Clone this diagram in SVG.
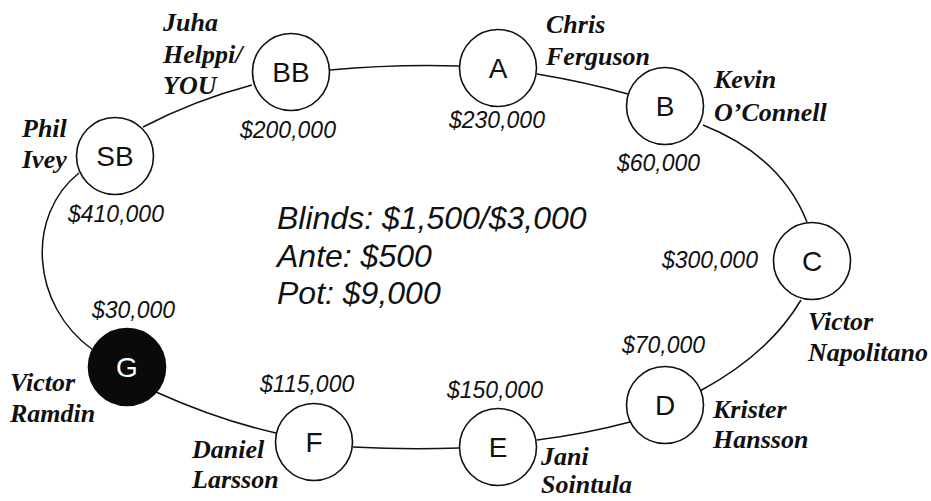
<svg xmlns="http://www.w3.org/2000/svg" width="931" height="501" viewBox="0 0 931 501">
<style>
  .seat { fill: #fff; stroke: #111; stroke-width: 1.6; }
  .seat-dark { fill: #0a0a0a; stroke: #0a0a0a; stroke-width: 1.6; }
  .lbl { font-family: "Liberation Sans", Arial, sans-serif; font-size: 28px; text-anchor: middle; fill: #111; }
  .lbl-dark { font-family: "Liberation Sans", Arial, sans-serif; font-size: 28px; text-anchor: middle; fill: #fff; }
  .name { font-family: "Liberation Serif", "Times New Roman", serif; font-weight: bold; font-style: italic; font-size: 26px; fill: #111; }
  .amt { font-family: "Liberation Sans", Arial, sans-serif; font-style: italic; font-size: 23px; fill: #111; }
  .info { font-family: "Liberation Sans", Arial, sans-serif; font-style: italic; font-size: 32px; fill: #111; }
  .conn { fill: none; stroke: #111; stroke-width: 1.5; }
</style>
<rect width="931" height="501" fill="#fff"/>
<g id="connectors">
  <path class="conn" d="M143 127 Q195 100 252 85"/>
  <path class="conn" d="M330 70 Q395 64 460 66"/>
  <path class="conn" d="M537 74 Q585 82 628 94"/>
  <path class="conn" d="M703 125 Q781 156 807 222"/>
  <path class="conn" d="M801 300 Q769 354 700 391"/>
  <path class="conn" d="M630 422 Q585 434 537 440"/>
  <path class="conn" d="M460 448 Q406 450 353 447"/>
  <path class="conn" d="M276 433 Q218 420 156 392"/>
  <path class="conn" d="M93 350 C30 305 26 215 79 173"/>
</g>
<g id="seat-SB">
  <circle class="seat" cx="115" cy="156" r="38.5"/>
  <text class="lbl" x="115" y="166">SB</text>
  <text class="name" x="22" y="137">Phil</text>
  <text class="name" x="22" y="168">Ivey</text>
  <text class="amt" x="68" y="222">$410,000</text>
</g>
<g id="seat-BB">
  <circle class="seat" cx="291" cy="72" r="38.5"/>
  <text class="lbl" x="291" y="82">BB</text>
  <text class="name" x="163" y="31">Juha</text>
  <text class="name" x="163" y="63">Helppi/</text>
  <text class="name" x="163" y="94">YOU</text>
  <text class="amt" x="240" y="138">$200,000</text>
</g>
<g id="seat-A">
  <circle class="seat" cx="498" cy="68" r="38.5"/>
  <text class="lbl" x="498" y="78">A</text>
  <text class="name" x="546" y="33">Chris</text>
  <text class="name" x="546" y="65">Ferguson</text>
  <text class="amt" x="449" y="128">$230,000</text>
</g>
<g id="seat-B">
  <circle class="seat" cx="665" cy="106" r="38.5"/>
  <text class="lbl" x="665" y="116">B</text>
  <text class="name" x="714" y="88">Kevin</text>
  <text class="name" x="714" y="121">O’Connell</text>
  <text class="amt" x="617" y="171">$60,000</text>
</g>
<g id="seat-C">
  <circle class="seat" cx="812" cy="261" r="38.5"/>
  <text class="lbl" x="812" y="271">C</text>
  <text class="name" x="808" y="330">Victor</text>
  <text class="name" x="808" y="361">Napolitano</text>
  <text class="amt" x="662" y="268">$300,000</text>
</g>
<g id="seat-D">
  <circle class="seat" cx="665" cy="405" r="38.5"/>
  <text class="lbl" x="665" y="415">D</text>
  <text class="name" x="713" y="418">Krister</text>
  <text class="name" x="713" y="448">Hansson</text>
  <text class="amt" x="622" y="353">$70,000</text>
</g>
<g id="seat-E">
  <circle class="seat" cx="498" cy="447" r="38.5"/>
  <text class="lbl" x="498" y="457">E</text>
  <text class="name" x="541" y="465">Jani</text>
  <text class="name" x="541" y="493">Sointula</text>
  <text class="amt" x="447" y="398">$150,000</text>
</g>
<g id="seat-F">
  <circle class="seat" cx="314" cy="442" r="38.5"/>
  <text class="lbl" x="314" y="452">F</text>
  <text class="name" x="192" y="458">Daniel</text>
  <text class="name" x="192" y="488">Larsson</text>
  <text class="amt" x="260" y="392">$115,000</text>
</g>
<g id="seat-G">
  <circle class="seat-dark" cx="127" cy="367" r="38.5"/>
  <text class="lbl-dark" x="127" y="377">G</text>
  <text class="name" x="10" y="391">Victor</text>
  <text class="name" x="10" y="422">Ramdin</text>
  <text class="amt" x="92" y="318">$30,000</text>
</g>
<g id="table-info">
  <text class="info" x="277" y="229">Blinds: $1,500/$3,000</text>
  <text class="info" x="277" y="267">Ante: $500</text>
  <text class="info" x="277" y="304">Pot: $9,000</text>
</g>
</svg>
